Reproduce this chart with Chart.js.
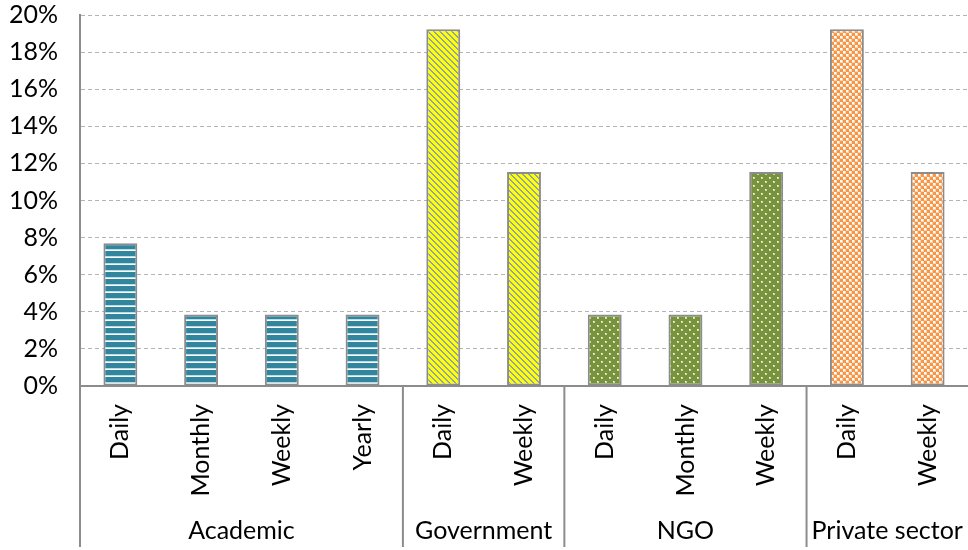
<!DOCTYPE html>
<html>
<head>
<meta charset="utf-8">
<title>Update frequency by sector</title>
<script src="https://cdn.jsdelivr.net/npm/chart.js@4.4.1/dist/chart.umd.min.js"></script>
<style>
  html, body { margin: 0; padding: 0; background: #fff; }
  #wrap { width: 968px; height: 550px; position: relative; }
</style>
</head>
<body>
<div id="wrap"><canvas id="freqChart"></canvas></div>
<script>
// Sectors and how many frequency bars each one has
const groupNames = ['Academic', 'Government', 'NGO', 'Private sector'];
const groupSizes = [4, 2, 3, 2];

// Frequency labels, one per bar
const frequencies = ['Daily', 'Monthly', 'Weekly', 'Yearly',
                     'Daily', 'Weekly',
                     'Daily', 'Monthly', 'Weekly',
                     'Daily', 'Weekly'];

// Share of respondents (%)
const shares = [7.69, 3.85, 3.85, 3.85,
                19.23, 11.54,
                3.85, 3.85, 11.54,
                19.23, 11.54];

// Y axis ticks
const yMax = 20;
const yStep = 2;

const FONT = 'Lato, "Liberation Sans", sans-serif';
const FONT_SIZE = 25;

// small helper to build a repeating canvas pattern
function makePattern(w, h, paint) {
    const c = document.createElement('canvas');
    c.width = w;
    c.height = h;
    const g = c.getContext('2d');
    paint(g, w, h);
    return g.createPattern(c, 'repeat');
}

// teal with light horizontal stripes
const stripes = makePattern(4, 7, (g, w, h) => {
    g.fillStyle = '#31859c';
    g.fillRect(0, 0, w, h);
    g.fillStyle = '#b7dde8';
    g.fillRect(0, 4, w, 1);
    g.fillStyle = '#ffffff';
    g.fillRect(0, 5, w, 1);
});

// yellow with downward diagonals
const diagonals = makePattern(6, 6, (g, w, h) => {
    g.fillStyle = '#ffff00';
    g.fillRect(0, 0, w, h);
    g.fillStyle = '#8ea2b4';
    for (let i = 0; i < 6; i++) {
        g.fillRect(i, i, 1, 1);
        g.fillRect((i + 1) % 6, i, 1, 1);
    }
});

// olive with white dots, staggered rows
const dots = makePattern(8, 8, (g, w, h) => {
    g.fillStyle = '#77933c';
    g.fillRect(0, 0, w, h);
    g.fillStyle = '#c9d8ad';
    g.fillRect(1, 1, 2, 2);
    g.fillRect(5, 5, 2, 2);
    g.fillStyle = '#ffffff';
    g.fillRect(1, 1, 1, 1);
    g.fillRect(5, 5, 1, 1);
});

// orange / white small checks
const checks = makePattern(6, 6, (g, w, h) => {
    g.fillStyle = '#f79646';
    g.fillRect(0, 0, w, h);
    g.fillStyle = '#fcd3b0';
    g.fillRect(0, 0, 3, 3);
    g.fillRect(3, 3, 3, 3);
    g.fillStyle = '#ffffff';
    g.fillRect(0, 0, 2, 2);
    g.fillRect(3, 3, 2, 2);
});

const groupFills = [stripes, diagonals, dots, checks];
const barFills = [];
groupSizes.forEach((n, gi) => {
    for (let i = 0; i < n; i++) barFills.push(groupFills[gi]);
});

// sector names under the frequency labels, with separators
const sectorAxis = {
    id: 'sectorAxis',
    afterDraw(chart) {
        const { ctx, chartArea, scales: { x } } = chart;
        const half = (x.getPixelForTick(1) - x.getPixelForTick(0)) / 2;
        const bottom = chart.height - 3;
        ctx.save();
        ctx.strokeStyle = '#8c8c8c';
        ctx.lineWidth = 2;
        ctx.fillStyle = '#000';
        ctx.font = FONT_SIZE + 'px ' + FONT;
        ctx.textAlign = 'center';
        ctx.textBaseline = 'middle';
        let idx = 0;
        groupNames.forEach((name, gi) => {
            const left = x.getPixelForTick(idx) - half;
            const right = x.getPixelForTick(idx + groupSizes[gi] - 1) + half;
            ctx.beginPath();
            ctx.moveTo(left, chartArea.bottom);
            ctx.lineTo(left, bottom);
            ctx.stroke();
            ctx.fillText(name, (left + right) / 2, 531);
            idx += groupSizes[gi];
        });
        ctx.restore();
    }
};

new Chart(document.getElementById('freqChart'), {
    type: 'bar',
    data: {
        labels: frequencies,
        datasets: [{
            data: shares,
            backgroundColor: barFills,
            borderColor: '#8c8c8c',
            borderWidth: 2,
            borderSkipped: false,
            barPercentage: 0.42,
            categoryPercentage: 1
        }]
    },
    options: {
        responsive: true,
        maintainAspectRatio: false,
        animation: false,
        layout: { padding: 0 },
        plugins: {
            legend: { display: false },
            tooltip: { enabled: false }
        },
        scales: {
            x: {
                grid: { display: false },
                border: { color: '#8c8c8c', width: 2 },
                ticks: {
                    color: '#000',
                    font: { family: FONT, size: FONT_SIZE },
                    minRotation: 90,
                    maxRotation: 90,
                    autoSkip: false,
                    padding: 10
                },
                afterFit: (scale) => { scale.height = 164; }
            },
            y: {
                min: 0,
                max: yMax,
                grid: {
                    color: (c) => c.index === 0 ? 'rgba(0,0,0,0)' : '#b4b4b4',
                    lineWidth: 1,
                    drawTicks: true,
                    tickLength: 22,
                    tickColor: 'rgba(0,0,0,0)'
                },
                border: { color: '#8c8c8c', width: 2, dash: [4, 3] },
                ticks: {
                    stepSize: yStep,
                    color: '#000',
                    font: { family: FONT, size: FONT_SIZE },
                    padding: 0,
                    callback: (v) => v + '%'
                },
                afterFit: (scale) => { scale.width = 80; }
            }
        }
    },
    plugins: [sectorAxis]
});
</script>
</body>
</html>
